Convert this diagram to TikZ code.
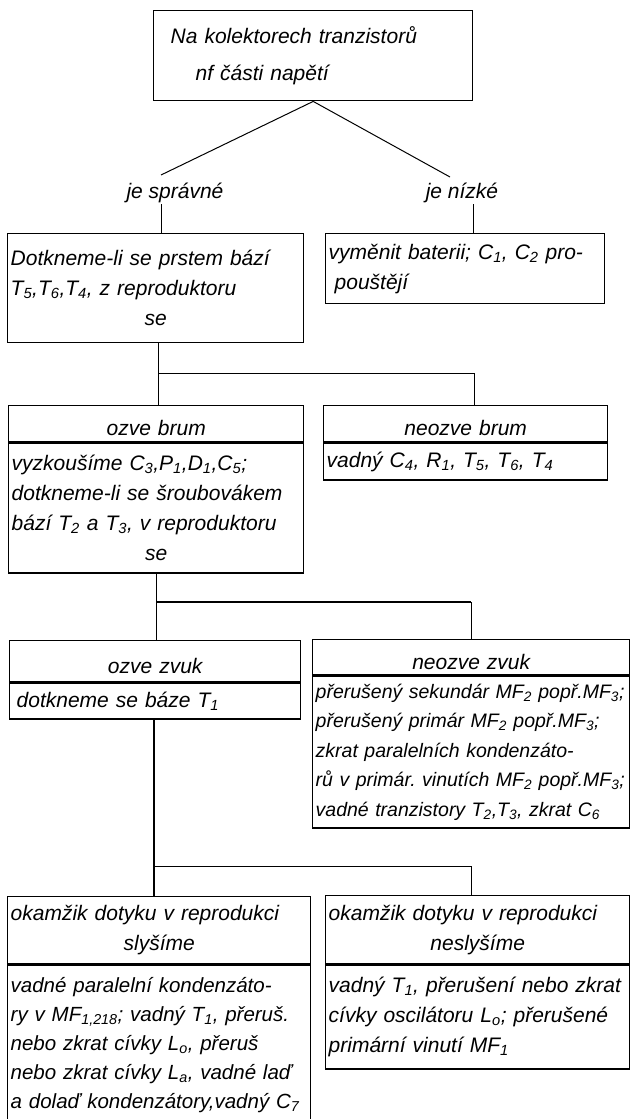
\documentclass[tikz,border=0pt]{standalone}
\usepackage{fontspec}
\setmainfont{Liberation Sans}
\usepackage{tikz}
\usetikzlibrary{positioning}
\newcommand{\lo}[1]{\textsubscript{#1}}
\newcommand{\midline}[1]{\makebox[\linewidth]{#1}}
\tikzset{
    chartBox/.style={
        draw=black,
        line width=1.4pt,
        anchor=north west,
        inner xsep=3pt,
        inner ysep=2pt,
        align=left,
        font=\itshape\fontsize{21}{30}\selectfont
    },
    chartHead/.style={
        chartBox,
        align=center,
        text height=24pt,
        text depth=0pt
    },
    chartLabel/.style={
        inner sep=1pt,
        font=\itshape\fontsize{21}{30}\selectfont
    },
    chartLink/.style={line width=1pt},
    chartHeavy/.style={line width=1.8pt}
}

\begin{document}
\begin{tikzpicture}[x=1pt, y=-1pt]
            \path[use as bounding box, fill=white] (0,0) rectangle (631,1119);

            % Coordinates
            \coordinate (CorrectTop) at (161,175);
            \coordinate (LowTop) at (450,177);
            \coordinate (LowDrop) at (473,233);
            \coordinate (ForkAL) at (158,373);
            \coordinate (ForkAR) at (474,373);
            \coordinate (ForkBL) at (156,602);
            \coordinate (ForkBR) at (471,602);
            \coordinate (ForkCL) at (154,866);
            \coordinate (ForkCR) at (471,866);

            % Start box and branches
            \node[chartBox, inner xsep=17pt, text width=285pt, minimum height=90pt] (Start) at (153,10)
                {Na kolektorech tranzistorů\\[7pt]\hspace*{25pt}nf části napětí};
            \node[chartLabel] (Correct) at (175,193) {je správné};
            \node[chartLabel] (Low) at (462,193) {je nízké};

            \node[chartBox, text width=290pt, minimum height=109pt] (Touch) at (7,233)
                {Dotkneme-li se prstem bází\\ T\lo{5},T\lo{6},T\lo{4}, z reproduktoru\\ \midline{se}};
            \node[chartBox, text width=273pt, minimum height=70pt] (Battery) at (325,233)
                {vyměnit baterii; C\lo{1}, C\lo{2} pro-\\ \hspace*{6pt}pouštějí};

            % Hum boxes
            \node[chartHead, text width=289pt, minimum height=36pt] (HumHead) at (8,405) {ozve brum};
            \node[chartBox, text width=289pt, minimum height=130pt] (HumBody) at (HumHead.south west)
                {vyzkoušíme C\lo{3},P\lo{1},D\lo{1},C\lo{5};\\ dotkneme-li se šroubovákem\\
                 bází T\lo{2} a T\lo{3}, v reproduktoru\\ \midline{se}};
            \node[chartHead, text width=278pt, minimum height=36pt] (NoHumHead) at (323,405) {neozve brum};
            \node[chartBox, text width=278pt, minimum height=37pt] (NoHumBody) at (NoHumHead.south west)
                {vadný C\lo{4}, R\lo{1}, T\lo{5}, T\lo{6}, T\lo{4}};

            % Sound boxes
            \node[chartHead, text width=285pt, minimum height=41pt] (SoundHead) at (9,640) {ozve zvuk};
            \node[chartBox, text width=285pt, minimum height=36pt] (SoundBody) at (SoundHead.south west)
                {\hspace*{4pt}dotkneme se báze T\lo{1}};
            \node[chartHead, text width=311pt, minimum height=35pt] (NoSoundHead) at (312,639) {neozve zvuk};
            \node[chartBox, text width=311pt, minimum height=152pt, font=\itshape\fontsize{19.5}{29.5}\selectfont]
                (NoSoundBody) at (NoSoundHead.south west)
                {přerušený sekundár MF\lo{2} popř.MF\lo{3};\\ přerušený primár MF\lo{2} popř.MF\lo{3};\\
                 zkrat paralelních kondenzáto-\\ rů v primár.\ vinutích MF\lo{2} popř.MF\lo{3};\\
                 vadné tranzistory T\lo{2},T\lo{3}, zkrat C\lo{6}};

            % Hearing boxes
            \node[chartBox, text width=297pt, minimum height=67pt] (HearHead) at (7,896)
                {okamžik dotyku v reprodukci\\ \midline{slyšíme}};
            \node[chartBox, text width=297pt, minimum height=160pt, font=\itshape\fontsize{20.5}{29}\selectfont]
                (HearBody) at (HearHead.south west)
                {vadné paralelní kondenzáto-\\ ry v MF\lo{1,218}; vadný T\lo{1}, přeruš.\\
                 nebo zkrat cívky L\lo{o}, přeruš\\ nebo zkrat cívky L\lo{a}, vadné laď\\
                 a dolaď kondenzátory,vadný C\lo{7}};
            \node[chartBox, text width=298pt, minimum height=68pt] (NoHearHead) at (325,895)
                {okamžik dotyku v reprodukci\\ \midline{neslyšíme}};
            \node[chartBox, text width=298pt, minimum height=104pt] (NoHearBody) at (NoHearHead.south west)
                {vadný T\lo{1}, přerušení nebo zkrat\\ cívky oscilátoru L\lo{o}; přerušené\\ primární vinutí MF\lo{1}};

            % Connectors
            \draw[chartLink] (Start.south) -- (CorrectTop);
            \draw[chartLink] (Start.south) -- (LowTop);
            \draw[chartLink] (Correct.south -| CorrectTop) -- (CorrectTop |- Touch.north);
            \draw[chartLink] (Low.south -| LowDrop) -- (LowDrop |- Battery.north);

            \draw[chartLink] (Touch.south -| ForkAL) -- (ForkAL |- HumHead.north);
            \draw[chartLink] (ForkAL) -- (ForkAR) -- (ForkAR |- NoHumHead.north);

            \draw[chartLink] (HumBody.south -| ForkBL) -- (ForkBL |- SoundHead.north);
            \draw[chartHeavy] (ForkBL) -- (ForkBR);
            \draw[chartLink] (ForkBR) -- (ForkBR |- NoSoundHead.north);

            \draw[chartHeavy] (SoundBody.south -| ForkCL) -- (ForkCL |- HearHead.north);
            \draw[chartLink] (ForkCL) -- (ForkCR) -- (ForkCR |- NoHearHead.north);
        \end{tikzpicture}
\end{document}
